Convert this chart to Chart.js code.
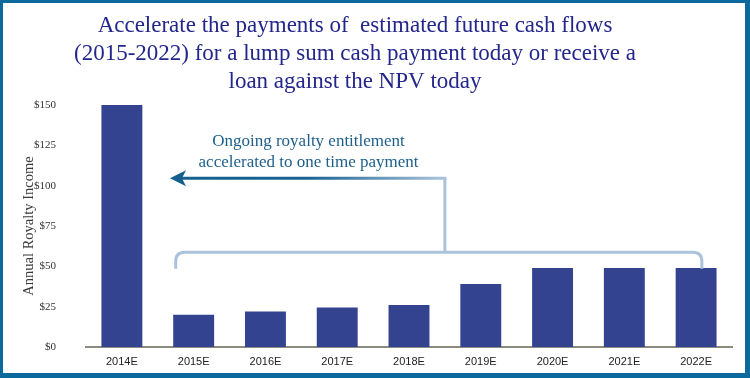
<!DOCTYPE html>
<html>
<head>
<meta charset="utf-8">
<script src="https://cdn.jsdelivr.net/npm/chart.js@4.4.1/dist/chart.umd.min.js"></script>
<style>
  html, body { margin: 0; padding: 0; background: #fff; }
  canvas { display: block; }
</style>
</head>
<body>
<canvas id="royalty" width="750" height="378"></canvas>
<script>
/* Data */
const categories = ["2014E", "2015E", "2016E", "2017E", "2018E", "2019E", "2020E", "2021E", "2022E"];
const royaltyIncome = [150, 20, 22, 24.5, 26, 39, 49, 49, 49];
const yTicks = [0, 25, 50, 75, 100, 125, 150];

const titleLines = [
    "Accelerate the payments of  estimated future cash flows",
    "(2015-2022) for a lump sum cash payment today or receive a",
    "loan against the NPV today"
];
const noteLines = ["Ongoing royalty entitlement", "accelerated to one time payment"];
const yTitle = "Annual Royalty Income";

const serif = "'Liberation Serif', 'DejaVu Serif', serif";

/* Title, frame and annotation arrow */
const decorPlugin = {
    id: "decor",
    afterDatasetsDraw(chart) {
        let ctx = chart.ctx;
        let x = chart.scales.x;
        let y = chart.scales.y;

        ctx.save();

        // titre
        ctx.fillStyle = "#23268a";
        ctx.font = "23px " + serif;
        ctx.textAlign = "center";
        ctx.textBaseline = "alphabetic";
        titleLines.forEach((line, i) => {
            ctx.fillText(line, 355, 32 + i * 28);
        });

        // titre axe Y
        ctx.save();
        ctx.translate(29, (y.top + y.bottom) / 2);
        ctx.rotate(-Math.PI / 2);
        ctx.fillStyle = "#3a3a3a";
        ctx.font = "14.5px " + serif;
        ctx.textAlign = "center";
        ctx.textBaseline = "middle";
        ctx.fillText(yTitle, 0, 0);
        ctx.restore();

        // accolade au-dessus des barres 2015-2022
        let bx0 = x.getPixelForValue(0.75);
        let bx1 = x.getPixelForValue(8.08);
        let bTop = y.getPixelForValue(58.7);
        let bEnd = y.getPixelForValue(48.5);
        let r = 9;
        ctx.strokeStyle = "#aac3db";
        ctx.lineWidth = 3;
        ctx.beginPath();
        ctx.moveTo(bx0, bEnd);
        ctx.lineTo(bx0, bTop + r);
        ctx.quadraticCurveTo(bx0, bTop, bx0 + r, bTop);
        ctx.lineTo(bx1 - r, bTop);
        ctx.quadraticCurveTo(bx1, bTop, bx1, bTop + r);
        ctx.lineTo(bx1, bEnd);
        ctx.stroke();

        // flèche vers 2014E
        let vx = x.getPixelForValue(4.5);
        let ay = y.getPixelForValue(104.6);
        let tip = x.getPixelForValue(0.67);
        ctx.beginPath();
        ctx.moveTo(vx, bTop);
        ctx.lineTo(vx, ay);
        ctx.stroke();

        let grad = ctx.createLinearGradient(tip, 0, vx, 0);
        grad.addColorStop(0, "#15608f");
        grad.addColorStop(0.5, "#1a6394");
        grad.addColorStop(1, "#aac3db");
        ctx.strokeStyle = grad;
        ctx.beginPath();
        ctx.moveTo(vx + 1.5, ay);
        ctx.lineTo(tip + 10, ay);
        ctx.stroke();

        ctx.fillStyle = "#15608f";
        ctx.beginPath();
        ctx.moveTo(tip, ay);
        ctx.lineTo(tip + 16, ay - 8);
        ctx.lineTo(tip + 12, ay);
        ctx.lineTo(tip + 16, ay + 8);
        ctx.closePath();
        ctx.fill();

        // texte de l'annotation
        ctx.fillStyle = "#1d5f8c";
        ctx.font = "17px " + serif;
        ctx.textAlign = "center";
        ctx.textBaseline = "middle";
        let nx = x.getPixelForValue(2.6);
        noteLines.forEach((line, i) => {
            ctx.fillText(line, nx, 142 + i * 21);
        });

        // cadre bleu
        ctx.fillStyle = "#0b6a9b";
        ctx.fillRect(0, 0, chart.width, 3);
        ctx.fillRect(0, 0, 3, chart.height);
        ctx.fillRect(chart.width - 5, 0, 5, chart.height);
        ctx.fillRect(0, chart.height - 5, chart.width, 5);

        ctx.restore();
    }
};

new Chart(document.getElementById("royalty"), {
    type: "bar",
    data: {
        labels: categories,
        datasets: [{
            label: yTitle,
            data: royaltyIncome,
            backgroundColor: "#34438f",
            borderWidth: 0,
            categoryPercentage: 1,
            barPercentage: 0.57
        }]
    },
    options: {
        responsive: false,
        animation: false,
        devicePixelRatio: 1,
        layout: { padding: { top: 105, right: 18, bottom: 0, left: 0 } },
        plugins: {
            legend: { display: false },
            tooltip: { enabled: false },
            title: { display: false }
        },
        scales: {
            x: {
                afterFit: s => { s.height = 31; },
                grid: { display: false },
                border: { display: true, color: "#8b8b7e", width: 2 },
                ticks: {
                    padding: 0,
                    color: "#222",
                    font: { family: "'Liberation Sans', Arial, sans-serif", size: 11 }
                }
            },
            y: {
                min: 0,
                max: 150,
                afterFit: s => { s.width = 86; },
                afterBuildTicks: s => { s.ticks = yTicks.map(v => ({ value: v })); },
                grid: { display: false },
                border: { display: false },
                ticks: {
                    padding: 22,
                    color: "#333",
                    font: { family: serif, size: 11 },
                    callback: v => "$" + v
                }
            }
        }
    },
    plugins: [decorPlugin]
});
</script>
</body>
</html>
